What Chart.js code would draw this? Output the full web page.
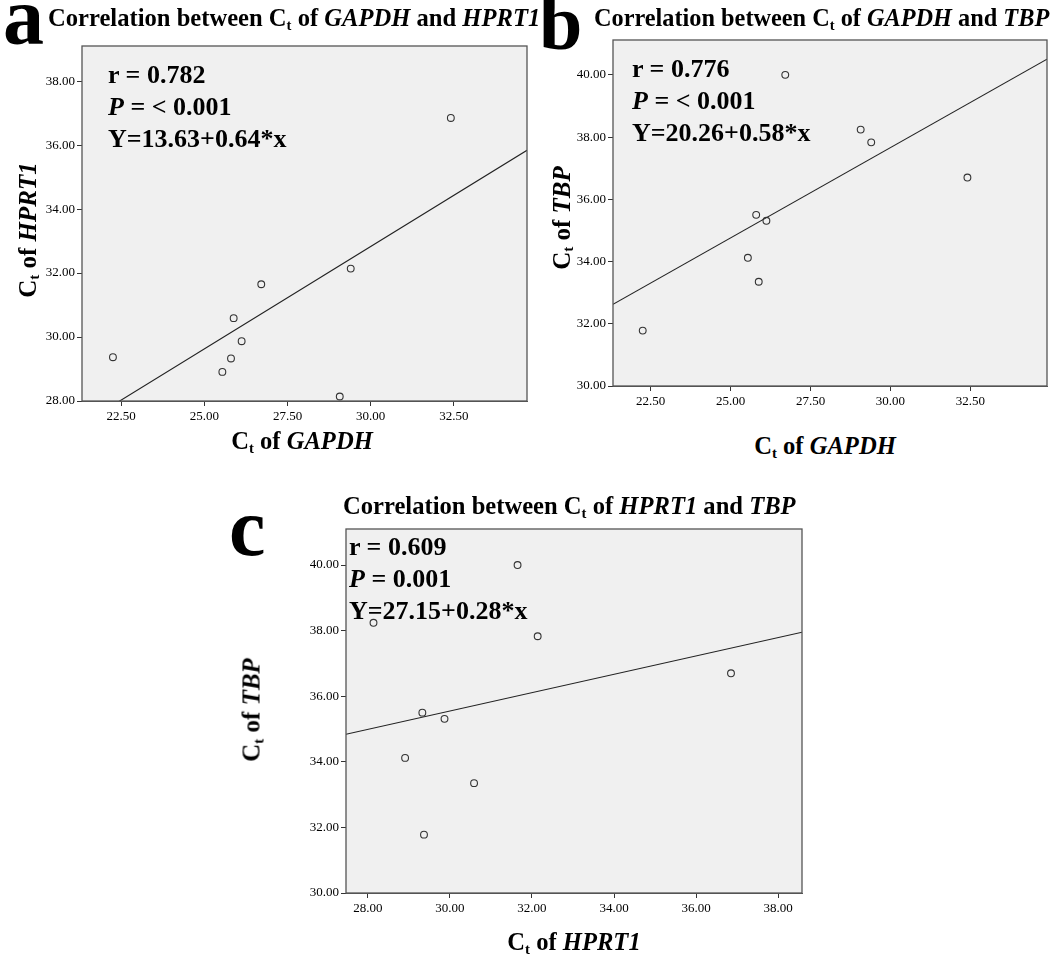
<!DOCTYPE html>
<html>
<head>
<meta charset="utf-8">
<script src="https://cdn.jsdelivr.net/npm/chart.js@4.4.1/dist/chart.umd.min.js"></script>
<style>
  html, body { margin:0; padding:0; background:#fff; }
  #wrap { position:relative; width:1063px; height:965px; overflow:hidden; background:#fff; }
  .cv { position:absolute; }
  .t { position:absolute; white-space:nowrap; font-family:"Liberation Serif","Times New Roman",serif; font-weight:bold; color:#000; line-height:1; }
  .t sub { font-size:0.6em; vertical-align:-0.25em; line-height:0; }
  .t i { font-style:italic; }
</style>
</head>
<body>
<div id="wrap"></div>
<script>
// ---- data (9 samples, Ct values) ----
const GAPDH = [22.25, 25.54, 25.80, 25.88, 26.12, 26.71, 29.07, 29.40, 32.41];
const HPRT1 = [29.37, 28.91, 29.33, 30.59, 29.87, 31.65, 28.14, 32.14, 36.85];
const TBP   = [31.78, 34.12, 35.50, 33.35, 35.31, 40.00, 38.24, 37.83, 36.70];

// regression results per panel (a, b, c)
const intercepts = [13.63, 20.26, 27.15];
const slopes     = [0.64, 0.58, 0.28];
const rValues    = ['0.782', '0.776', '0.609'];
const pValues    = ['< 0.001', '< 0.001', '0.001'];

// tick labels
const ticksGapdhX = [22.5, 25, 27.5, 30, 32.5];
const ticksHprtY  = [28, 30, 32, 34, 36, 38];
const ticksTbpY   = [30, 32, 34, 36, 38, 40];
const ticksHprtX  = [28, 30, 32, 34, 36, 38];

// axis ranges
const rangeA = {xmin:21.32, xmax:34.70, ymin:28, ymax:39.10};
const rangeB = {xmin:21.32, xmax:34.90, ymin:30, ymax:41.12};
const rangeC = {xmin:27.47, xmax:38.58, ymin:30, ymax:41.10};

const FONT = '"Liberation Serif","Times New Roman",serif';
const wrap = document.getElementById('wrap');

const boxPlugin = {
  id:'box',
  beforeDatasetsDraw(chart){
    const a = chart.chartArea, ctx = chart.ctx;
    ctx.save();
    ctx.fillStyle = '#f0f0f0';
    ctx.fillRect(a.left, a.top, a.right - a.left, a.bottom - a.top);
    ctx.restore();
  },
  afterDatasetsDraw(chart){
    const a = chart.chartArea, ctx = chart.ctx;
    ctx.save();
    ctx.strokeStyle = '#555';
    ctx.lineWidth = 1.3;
    ctx.strokeRect(a.left, a.top, a.right - a.left, a.bottom - a.top);
    ctx.restore();
  }
};

function makePanel(box, xs, ys, rng, xt, yt, idx){
  const yW = 80, padT = 10, padR = 10, xH = 40;
  const w = box.right - box.left, h = box.bottom - box.top;
  const div = document.createElement('div');
  div.className = 'cv';
  div.style.left = (box.left - yW) + 'px';
  div.style.top = (box.top - padT) + 'px';
  const cw = yW + w + padR, ch = padT + h + xH;
  div.style.width = cw + 'px'; div.style.height = ch + 'px';
  const cv = document.createElement('canvas');
  cv.width = cw; cv.height = ch;
  div.appendChild(cv);
  wrap.appendChild(div);

  const pts = xs.map((x,i)=>({x:x, y:ys[i]}));
  const a0 = intercepts[idx], b0 = slopes[idx];
  const fit = [rng.xmin, rng.xmax].map(x=>({x:x, y:a0 + b0*x}));

  new Chart(cv, {
    type:'scatter',
    data:{ datasets:[
      { data:pts, showLine:false, pointRadius:3.4, pointHoverRadius:3.4, pointBorderWidth:1.1,
        pointBorderColor:'#333', pointBackgroundColor:'rgba(0,0,0,0)' },
      { data:fit, showLine:true, pointRadius:0, borderColor:'#222', borderWidth:1.1, fill:false }
    ]},
    plugins:[boxPlugin],
    options:{
      responsive:false, animation:false, devicePixelRatio:1,
      layout:{ padding:{ top:padT, right:padR, left:0, bottom:0 } },
      plugins:{ legend:{display:false}, tooltip:{enabled:false} },
      scales:{
        x:{ type:'linear', min:rng.xmin, max:rng.xmax,
            afterFit(s){ s.height = xH; },
            afterBuildTicks(s){ s.ticks = xt.map(v=>({value:v})); },
            grid:{ display:true, drawOnChartArea:false, drawTicks:true, tickLength:5, color:'#333', lineWidth:1 },
            border:{ display:true, color:'#555', width:1 },
            ticks:{ font:{family:FONT, size:13}, color:'#000', padding:3, maxRotation:0, autoSkip:false,
                    callback:(v)=>Number(v).toFixed(2) } },
        y:{ type:'linear', min:rng.ymin, max:rng.ymax,
            afterFit(s){ s.width = yW; },
            afterBuildTicks(s){ s.ticks = yt.map(v=>({value:v})); },
            grid:{ display:true, drawOnChartArea:false, drawTicks:true, tickLength:5, color:'#333', lineWidth:1 },
            border:{ display:true, color:'#555', width:1 },
            ticks:{ font:{family:FONT, size:13}, color:'#000', padding:2, autoSkip:false,
                    callback:(v)=>Number(v).toFixed(2) } }
      }
    }
  });
}

function txt(html, x, baseline, size, opts){
  opts = opts || {};
  const d = document.createElement('div');
  d.className = 't';
  d.innerHTML = html;
  d.style.fontSize = size + 'px';
  d.style.left = x + 'px';
  d.style.top = (baseline - 0.8375*size) + 'px';
  if (opts.center) d.style.transform = 'translateX(-50%)';
  wrap.appendChild(d);
  return d;
}
function vtxt(html, cx, cy, size){
  const d = document.createElement('div');
  d.className = 't';
  d.innerHTML = html;
  d.style.fontSize = size + 'px';
  d.style.left = cx + 'px';
  d.style.top = cy + 'px';
  d.style.transform = 'translate(-50%,-50%) rotate(-90deg)';
  wrap.appendChild(d);
}

const boxA = {left:82, top:46, right:527, bottom:401};
const boxB = {left:613, top:40, right:1047, bottom:386};
const boxC = {left:346, top:529, right:802, bottom:893};

makePanel(boxA, GAPDH, HPRT1, rangeA, ticksGapdhX, ticksHprtY, 0);
makePanel(boxB, GAPDH, TBP, rangeB, ticksGapdhX, ticksTbpY, 1);
makePanel(boxC, HPRT1, TBP, rangeC, ticksHprtX, ticksTbpY, 2);

const Ct = 'C<sub>t</sub>';
// panel letters
txt('a', 3, 45, 82);
txt('b', 539, 49, 78);
txt('c', 229, 556, 82);
// titles
txt('Correlation between ' + Ct + ' of <i>GAPDH</i> and <i>HPRT1</i>', 48, 27, 24.6);
txt('Correlation between ' + Ct + ' of <i>GAPDH</i> and <i>TBP</i>', 594, 26, 24.3);
txt('Correlation between ' + Ct + ' of <i>HPRT1</i> and <i>TBP</i>', 343, 515, 24.6);
// statistics
const statPos = [[108, 84], [632, 78], [349, 556]];
statPos.forEach((p, i)=>{
  txt('r = ' + rValues[i], p[0], p[1], 26);
  txt('<i>P</i> = ' + pValues[i], p[0], p[1] + 32, 26);
  txt('Y=' + intercepts[i].toFixed(2) + '+' + slopes[i].toFixed(2) + '*x', p[0], p[1] + 64, 26);
});
// axis titles
txt(Ct + ' of <i>GAPDH</i>', 302, 450, 24.6, {center:true});
txt(Ct + ' of <i>GAPDH</i>', 825, 455, 24.6, {center:true});
txt(Ct + ' of <i>HPRT1</i>', 574, 951, 24.6, {center:true});
vtxt(Ct + ' of <i>HPRT1</i>', 27, 230, 25);
vtxt(Ct + ' of <i>TBP</i>', 561, 218, 25);
vtxt(Ct + ' of <i>TBP</i>', 251, 710, 25);
</script>
</body>
</html>
